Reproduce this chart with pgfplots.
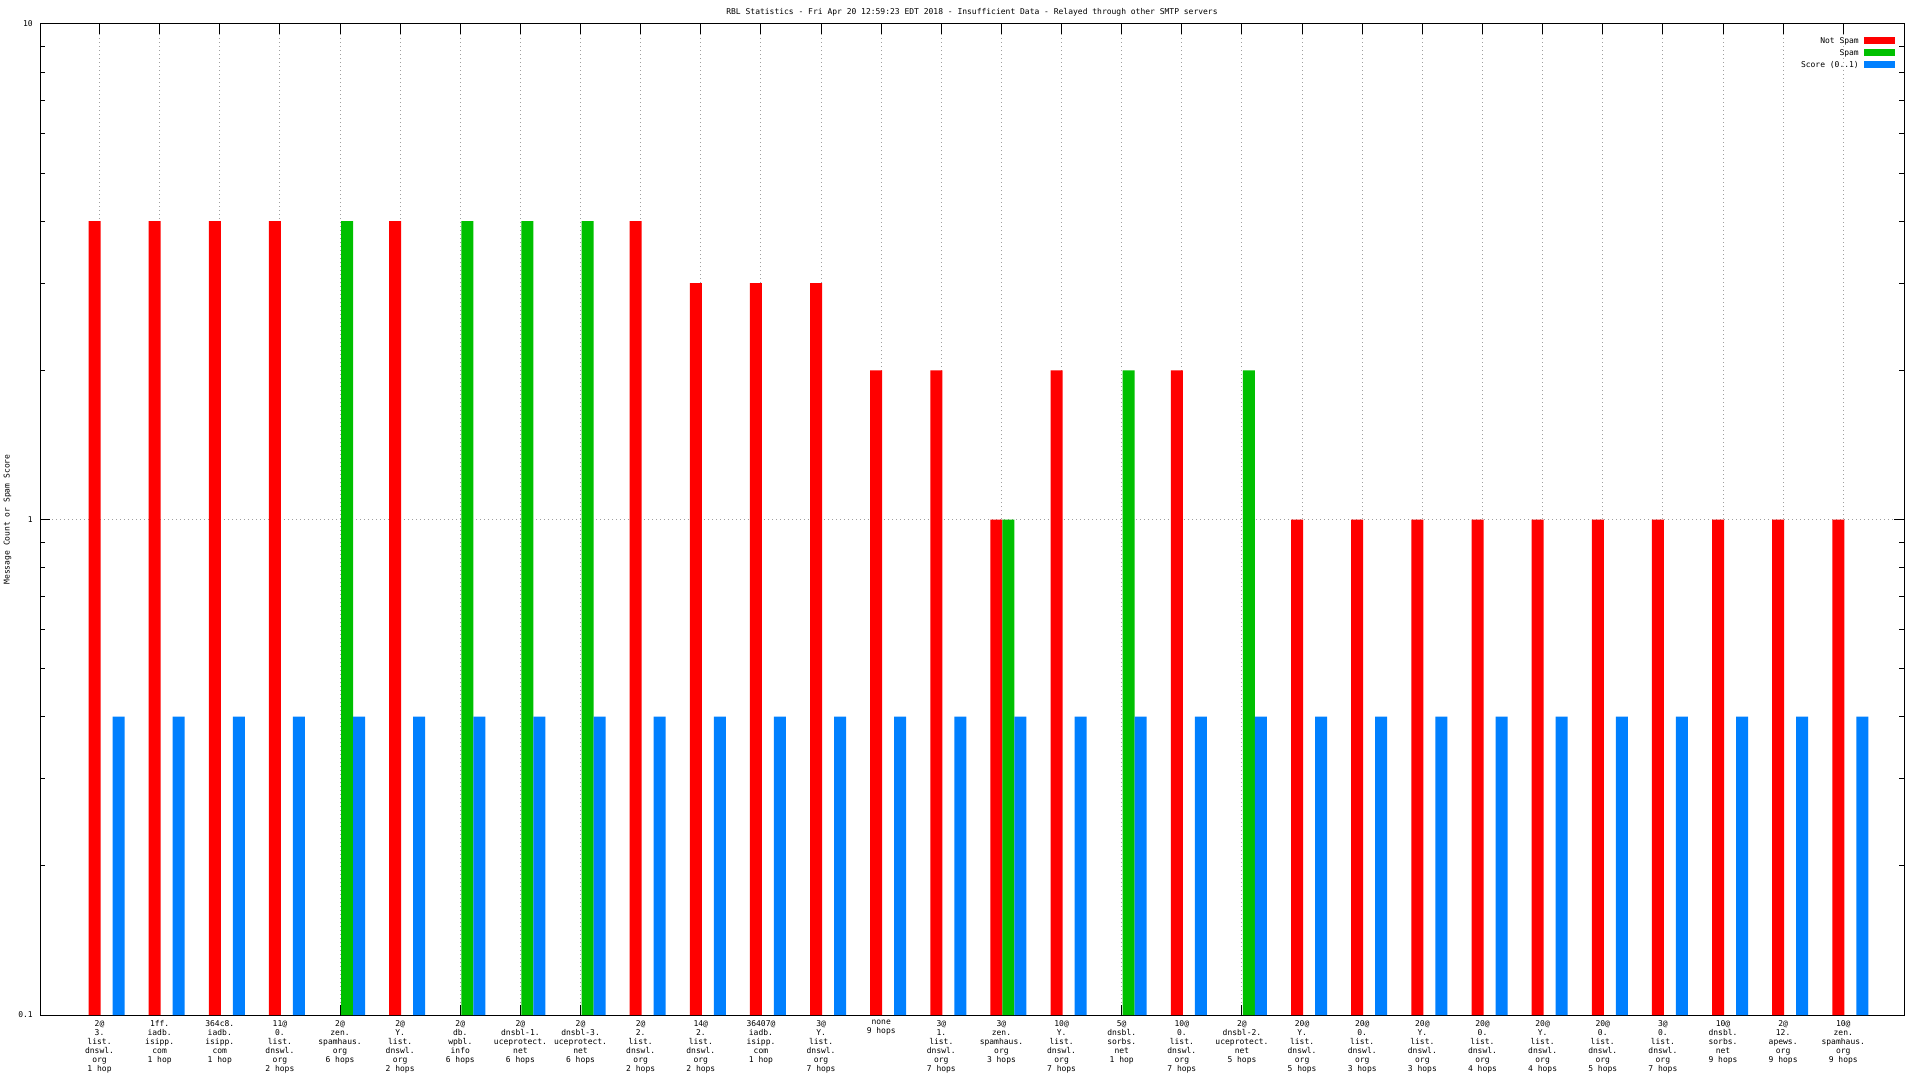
\documentclass[border=0pt]{standalone}
\usepackage{fontspec}
\setmonofont{DejaVu Sans Mono}
\usepackage{pgfplots}
\pgfplotsset{compat=1.18}
\newcommand{\gf}{\ttfamily\fontsize{8}{9}\selectfont}
\definecolor{gpred}{RGB}{255,0,0}
\definecolor{gpgreen}{RGB}{0,192,0}
\definecolor{gpblue}{RGB}{0,128,255}
\definecolor{gpgrid}{RGB}{160,160,160}
\begin{document}
\begin{tikzpicture}
\path[use as bounding box] (0,0) rectangle (1920pt,1080pt);
\begin{axis}[
  at={(40pt,65pt)}, anchor=south west,
  scale only axis, width=1864pt, height=991pt,
  ymode=log, ymin=0.1, ymax=10, xmin=-0.99, xmax=30.01,
  log origin y=infty,
  axis line style={line width=1pt, black},
  tick style={line width=1pt, black},
  major tick length=10pt, minor tick length=5pt,
  tick align=inside, xtick pos=both, ytick pos=both,
  ytick={0.1,1,10}, yticklabels={0.1,1,10},
  minor ytick={0.2,0.3,0.4,0.5,0.6,0.7,0.8,0.9,2,3,4,5,6,7,8,9},
  xtick={0,...,29},
  xticklabels={
    {2@\\3.\\list.\\dnswl.\\org\\1 hop},
    {1ff.\\iadb.\\isipp.\\com\\1 hop},
    {364c8.\\iadb.\\isipp.\\com\\1 hop},
    {11@\\0.\\list.\\dnswl.\\org\\2 hops},
    {2@\\zen.\\spamhaus.\\org\\6 hops},
    {2@\\Y.\\list.\\dnswl.\\org\\2 hops},
    {2@\\db.\\wpbl.\\info\\6 hops},
    {2@\\dnsbl-1.\\uceprotect.\\net\\6 hops},
    {2@\\dnsbl-3.\\uceprotect.\\net\\6 hops},
    {2@\\2.\\list.\\dnswl.\\org\\2 hops},
    {14@\\2.\\list.\\dnswl.\\org\\2 hops},
    {36407@\\iadb.\\isipp.\\com\\1 hop},
    {3@\\Y.\\list.\\dnswl.\\org\\7 hops},
    {none\\9 hops},
    {3@\\1.\\list.\\dnswl.\\org\\7 hops},
    {3@\\zen.\\spamhaus.\\org\\3 hops},
    {10@\\Y.\\list.\\dnswl.\\org\\7 hops},
    {5@\\dnsbl.\\sorbs.\\net\\1 hop},
    {10@\\0.\\list.\\dnswl.\\org\\7 hops},
    {2@\\dnsbl-2.\\uceprotect.\\net\\5 hops},
    {20@\\Y.\\list.\\dnswl.\\org\\5 hops},
    {20@\\0.\\list.\\dnswl.\\org\\3 hops},
    {20@\\Y.\\list.\\dnswl.\\org\\3 hops},
    {20@\\0.\\list.\\dnswl.\\org\\4 hops},
    {20@\\Y.\\list.\\dnswl.\\org\\4 hops},
    {20@\\0.\\list.\\dnswl.\\org\\5 hops},
    {3@\\0.\\list.\\dnswl.\\org\\7 hops},
    {10@\\dnsbl.\\sorbs.\\net\\9 hops},
    {2@\\12.\\apews.\\org\\9 hops},
    {10@\\zen.\\spamhaus.\\org\\9 hops}},
  xticklabel style={font=\gf, align=center, inner sep=0pt, yshift=-5pt},
  yticklabel style={font=\gf, inner sep=0pt, xshift=-7pt},
  xmajorgrids, ymajorgrids,
  grid style={gpgrid, line width=1pt, dash pattern=on 1pt off 3pt},
  title={RBL Statistics - Fri Apr 20 12:59:23 EDT 2018 - Insufficient Data - Relayed through other SMTP servers},
  title style={font=\gf, at={(axis description cs:0.5,1)}, anchor=base, inner sep=0pt, yshift=3pt},
  ylabel={Message Count or Spam Score},
  ylabel style={font=\gf, at={(axis description cs:-0.0174,0.5)}, anchor=center, inner sep=0pt},
  legend style={at={(axis description cs:1,1)}, anchor=north east, xshift=-9pt, yshift=-13pt,
    draw=none, fill=none, inner sep=0pt, font=\gf, row sep=5pt, column sep=5pt,
    nodes={inner sep=0pt, text height=6pt, text depth=1pt}},
  legend cell align=right, legend plot pos=right,
]
\addplot[ybar, bar width=12pt, bar shift=-5pt, fill=gpred, draw=none,
  legend image code/.code={\fill[gpred] (0pt,-3.5pt) rectangle (31pt,3.5pt);}]
  coordinates {(0,4)(1,4)(2,4)(3,4)(5,4)(9,4)(10,3)(11,3)(12,3)(13,2)(14,2)(15,1)(16,2)(18,2)
  (20,1)(21,1)(22,1)(23,1)(24,1)(25,1)(26,1)(27,1)(28,1)(29,1)};
\addlegendentry{Not Spam}
\addplot[ybar, bar width=12pt, bar shift=7pt, fill=gpgreen, draw=none,
  legend image code/.code={\fill[gpgreen] (0pt,-3.5pt) rectangle (31pt,3.5pt);}]
  coordinates {(4,4)(6,4)(7,4)(8,4)(15,1)(17,2)(19,2)};
\addlegendentry{Spam}
\addplot[ybar, bar width=12pt, bar shift=19pt, fill=gpblue, draw=none,
  legend image code/.code={\fill[gpblue] (0pt,-3.5pt) rectangle (31pt,3.5pt);}]
  coordinates {(0,0.4)(1,0.4)(2,0.4)(3,0.4)(4,0.4)(5,0.4)(6,0.4)(7,0.4)(8,0.4)(9,0.4)
  (10,0.4)(11,0.4)(12,0.4)(13,0.4)(14,0.4)(15,0.4)(16,0.4)(17,0.4)(18,0.4)(19,0.4)
  (20,0.4)(21,0.4)(22,0.4)(23,0.4)(24,0.4)(25,0.4)(26,0.4)(27,0.4)(28,0.4)(29,0.4)};
\addlegendentry{Score (0..1)}
\end{axis}
\end{tikzpicture}
\end{document}
